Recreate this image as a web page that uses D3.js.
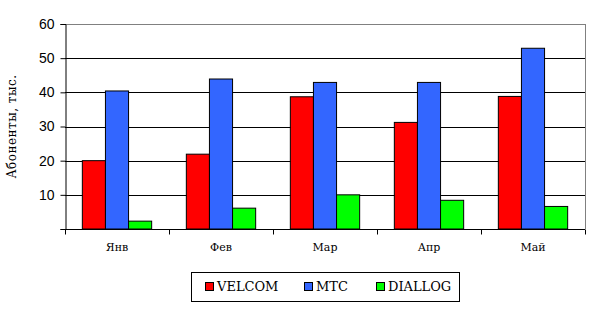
<!DOCTYPE html>
<html>
<head>
<meta charset="utf-8">
<script src="https://cdn.jsdelivr.net/npm/d3@7"></script>
<style>
  body { margin: 0; background: #fff; }
  svg { display: block; }
  .serif { font-family: "DejaVu Serif", "Liberation Serif", serif; }
  .sans { font-family: "Liberation Sans", Arial, sans-serif; }
</style>
</head>
<body>
<div id="chart"></div>
<script>
// Данные
const months = ["Янв", "Фев", "Мар", "Апр", "Май"];
const seriesNames = ["VELCOM", "MTC", "DIALLOG"];
const velcom = [20, 21.9, 38.7, 31.2, 38.8];
const mtc = [40.4, 43.9, 42.9, 42.9, 52.9];
const diallog = [2.3, 6.1, 10, 8.4, 6.6];
const yTicks = [10, 20, 30, 40, 50, 60];
const colors = ["#ff0000", "#3366ff", "#00ff00"];

const width = 595;
const height = 310;
const margin = { top: 24, right: 10, bottom: 81, left: 65 };
const plotW = 585 - margin.left;
const plotH = 229 - margin.top;

const svg = d3.select("#chart").append("svg")
    .attr("width", width)
    .attr("height", height)
    .attr("viewBox", [0, 0, width, height]);

const g = svg.append("g")
    .attr("transform", `translate(${margin.left},${margin.top})`);

const x = d3.scaleBand()
    .domain(months)
    .range([0, plotW]);

// 3 бара + зазор 150%
const x1 = d3.scaleBand()
    .domain(seriesNames)
    .range([0, x.bandwidth()])
    .paddingOuter(0.75)
    .paddingInner(0);

const y = d3.scaleLinear()
    .domain([0, 60])
    .range([plotH, 0]);

// сетка
g.append("g")
    .selectAll("line")
    .data(yTicks)
    .join("line")
    .attr("x1", 0)
    .attr("x2", plotW)
    .attr("y1", d => Math.round(y(d)) + 0.5)
    .attr("y2", d => Math.round(y(d)) + 0.5)
    .attr("stroke", d => d === 60 ? "#808080" : "#000")
    .attr("stroke-width", 1);

// правая граница
g.append("line")
    .attr("x1", plotW + 0.5).attr("x2", plotW + 0.5)
    .attr("y1", y(60)).attr("y2", y(0))
    .attr("stroke", "#808080");

// бары
const rows = months.map((m, i) => ({ month: m, values: [velcom[i], mtc[i], diallog[i]] }));

g.append("g")
    .selectAll("g")
    .data(rows)
    .join("g")
    .attr("transform", d => `translate(${x(d.month)},0)`)
    .selectAll("rect")
    .data(d => d.values.map((v, i) => ({ key: seriesNames[i], value: v, color: colors[i] })))
    .join("rect")
    .attr("x", d => x1(d.key))
    .attr("y", d => y(d.value))
    .attr("width", x1.bandwidth())
    .attr("height", d => y(0) - y(d.value))
    .attr("fill", d => d.color)
    .attr("stroke", "#000")
    .attr("stroke-width", 1);

// ось Y
const yAxis = g.append("g")
    .attr("transform", "translate(0.5,0)")
    .call(d3.axisLeft(y).tickValues([0].concat(yTicks)).tickSize(5).tickPadding(6)
        .tickFormat(d => d === 0 ? "" : d));
yAxis.attr("font-family", null);
yAxis.select(".domain").attr("stroke", "#000");
yAxis.selectAll("text")
    .attr("class", "sans")
    .attr("font-size", 14)
    .attr("fill", "#000");

// ось X
const xTickPos = d3.range(months.length + 1).map(i => i * x.step());
const xAxis = g.append("g")
    .attr("transform", `translate(0,${plotH + 0.5})`);
xAxis.append("line")
    .attr("x1", 0).attr("x2", plotW)
    .attr("stroke", "#000");
xAxis.selectAll(".tick")
    .data(xTickPos)
    .join("line")
    .attr("class", "tick")
    .attr("x1", d => Math.round(d) + 0.5)
    .attr("x2", d => Math.round(d) + 0.5)
    .attr("y1", 0).attr("y2", 5)
    .attr("stroke", "#000");
xAxis.selectAll("text")
    .data(months)
    .join("text")
    .attr("class", "serif")
    .attr("x", d => x(d) + x.bandwidth() / 2)
    .attr("y", 21)
    .attr("text-anchor", "middle")
    .attr("font-size", 11)
    .text(d => d);

// подпись оси Y
svg.append("text")
    .attr("class", "serif")
    .attr("transform", `translate(16,${(y(0) + y(60)) / 2 + margin.top}) rotate(-90)`)
    .attr("text-anchor", "middle")
    .attr("font-size", 12)
    .attr("letter-spacing", 0.5)
    .text("Абоненты, тыс.");

// легенда
const legend = svg.append("g");
legend.append("rect")
    .attr("x", 191.5).attr("y", 272.5)
    .attr("width", 268).attr("height", 29)
    .attr("fill", "#fff")
    .attr("stroke", "#000");

const legendX = [205, 304, 376];
const items = legend.selectAll("g.item")
    .data(seriesNames)
    .join("g")
    .attr("class", "item")
    .attr("transform", (d, i) => `translate(${legendX[i]},282)`);
items.append("rect")
    .attr("x", 0.5).attr("y", 0.5)
    .attr("width", 8).attr("height", 8)
    .attr("fill", (d, i) => colors[i])
    .attr("stroke", "#000");
items.append("text")
    .attr("class", "serif")
    .attr("x", 12)
    .attr("y", 9)
    .attr("font-size", 13)
    .text(d => d);
</script>
</body>
</html>
